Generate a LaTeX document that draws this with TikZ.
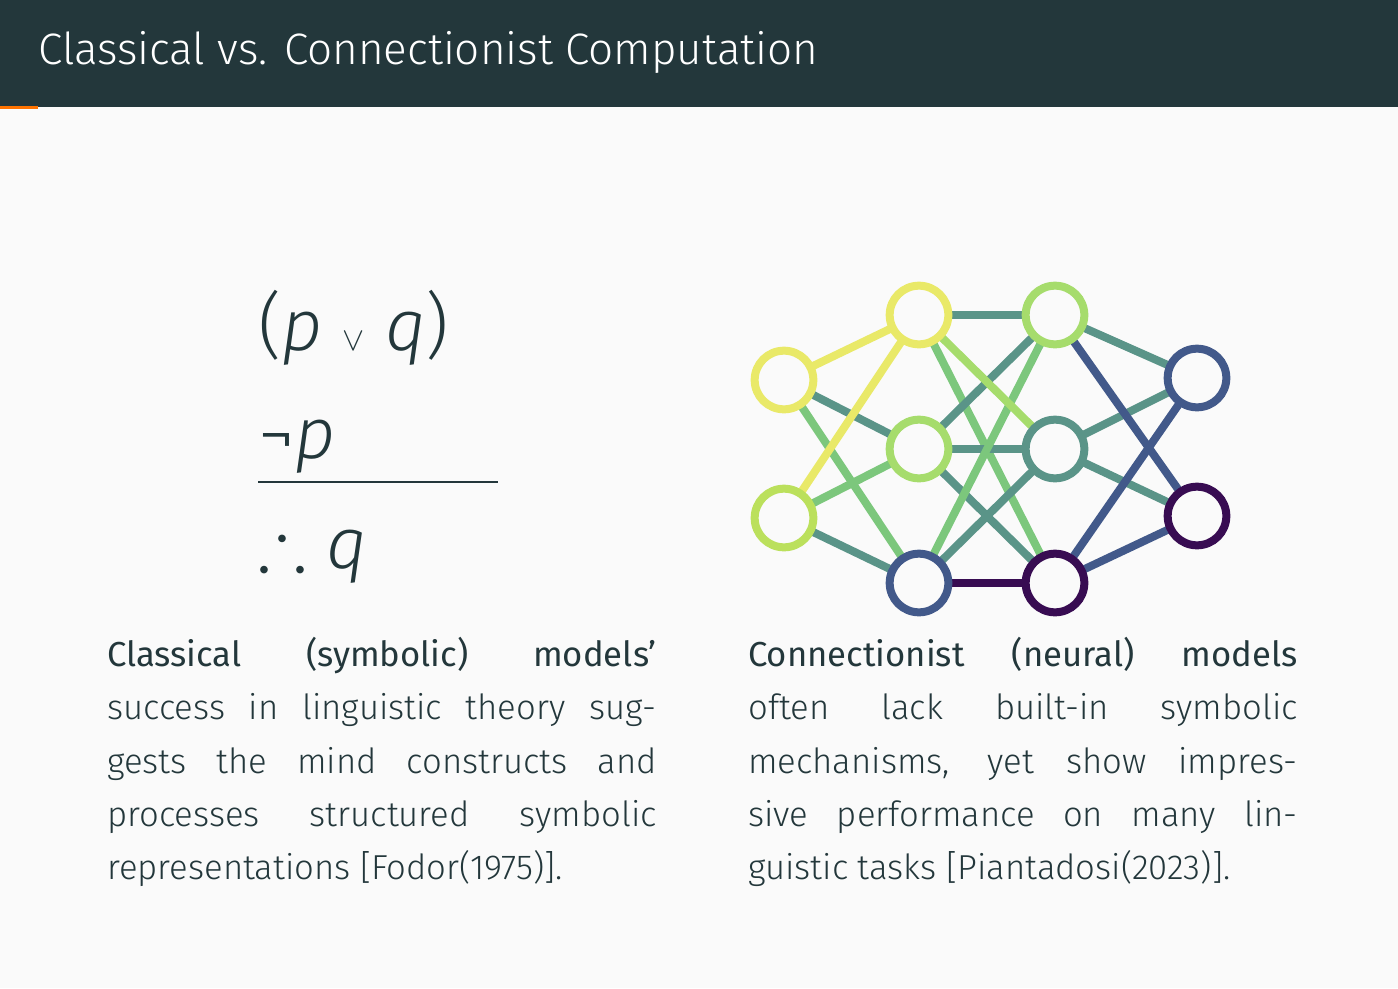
\documentclass[tikz,border=0pt]{standalone}
\usepackage{amssymb}
\usepackage{fontspec}
\setmainfont{Fira Sans Light}[BoldFont={Fira Sans},ItalicFont={Fira Sans Light Italic}]
\definecolor{bar}{HTML}{23373B}
\definecolor{bg}{HTML}{FAFAFA}
\definecolor{txt}{HTML}{23373B}
\definecolor{cY}{HTML}{E9E968}
\definecolor{cYG}{HTML}{BBE05C}
\definecolor{cLG}{HTML}{A6DC6C}
\definecolor{cG}{HTML}{7CC77C}
\definecolor{cT}{HTML}{5A9488}
\definecolor{cB}{HTML}{42598A}
\definecolor{cP}{HTML}{380C52}
\tikzset{nn/.style={circle,draw=#1,line width=6pt,minimum size=44pt,inner sep=0pt},
 ed/.style={draw=#1,line width=6pt},
 para/.style={text width=412pt,align=justify,anchor=north west,inner sep=0pt,font=\fontsize{26}{40}\selectfont,text=txt}}
\begin{document}
\begin{tikzpicture}[x=0.75pt,y=-0.75pt]
\fill[bg] (0,0) rectangle (1398,988);
\useasboundingbox (0,0) rectangle (1398,988);
\fill[bar] (0,0) rectangle (1398,107);
\fill[orange!90!red] (0,106) rectangle (38,109);
\node[anchor=west,text=white,font=\fontsize{33}{40}\selectfont,inner sep=0pt] (title) at (38,52) {Classical vs. Connectionist Computation};
% logic
\node[anchor=base west,inner sep=0pt,text=txt,font=\fontsize{54}{60}\selectfont] (l1) at (258,350) {(\textit{p} $\vee$ \textit{q})};
\node[anchor=base west,inner sep=0pt,text=txt,font=\fontsize{54}{60}\selectfont] (l2) at (258,458) {¬\textit{p}};
\node[anchor=base west,inner sep=0pt,text=txt,font=\fontsize{54}{60}\selectfont] (l3) at (258,568) {$\therefore$ \textit{q}};
\coordinate (ra) at (258,482); \coordinate (rb) at (498,482);
\draw[txt,line width=1.5pt] (ra) -- (rb);
% network nodes
\coordinate (i1) at (784,380); \coordinate (i2) at (784,518);
\coordinate (a1) at (919,315); \coordinate (a2) at (919,449); \coordinate (a3) at (919,583);
\coordinate (b1) at (1055,315); \coordinate (b2) at (1055,449); \coordinate (b3) at (1055,583);
\coordinate (o1) at (1197,378); \coordinate (o2) at (1197,516);
\draw[ed=cT] (i1)--(a2); \draw[ed=cG] (i1)--(a3);
\draw[ed=cG] (i2)--(a2); \draw[ed=cT] (i2)--(a3);
\draw[ed=cY] (i1)--(a1); \draw[ed=cY] (i2)--(a1);
\draw[ed=cT] (a1)--(b1); \draw[ed=cG] (a1)--(b3);
\draw[ed=cT] (a2)--(b1); \draw[ed=cT] (a2)--(b2); \draw[ed=cT] (a2)--(b3);
\draw[ed=cT] (a3)--(b2); \draw[ed=cG] (a3)--(b1); \draw[ed=cP] (a3)--(b3);
\draw[ed=cLG] (a1)--(b2);
\draw[ed=cT] (b1)--(o1); \draw[ed=cT] (b2)--(o1); \draw[ed=cT] (b2)--(o2);
\draw[ed=cB] (b1)--(o2); \draw[ed=cB] (b3)--(o1); \draw[ed=cB] (b3)--(o2);
\node[nn=cY,fill=bg] (ni1) at (i1) {}; \node[nn=cYG,fill=bg] (ni2) at (i2) {};
\node[nn=cY,fill=bg] (na1) at (a1) {}; \node[nn=cLG,fill=bg] (na2) at (a2) {}; \node[nn=cB,fill=bg] (na3) at (a3) {};
\node[nn=cLG,fill=bg] (nb1) at (b1) {}; \node[nn=cT,fill=bg] (nb2) at (b2) {}; \node[nn=cP,fill=bg] (nb3) at (b3) {};
\node[nn=cB,fill=bg] (no1) at (o1) {}; \node[nn=cP,fill=bg] (no2) at (o2) {};
% texts
\node[para] (pl) at (107,637) {\hyphenpenalty=10000 \textbf{Classical (symbolic) models'}\linebreak success in linguistic theory sug-\linebreak gests the mind constructs and\linebreak processes structured symbolic\linebreak representations [Fodor(1975)].};
\node[para] (pr) at (748,637) {\hyphenpenalty=10000 \textbf{Connectionist (neural) models}\linebreak often lack built-in symbolic\linebreak mechanisms, yet show impres-\linebreak sive performance on many lin-\linebreak guistic tasks [Piantadosi(2023)].};
\end{tikzpicture}
\end{document}
